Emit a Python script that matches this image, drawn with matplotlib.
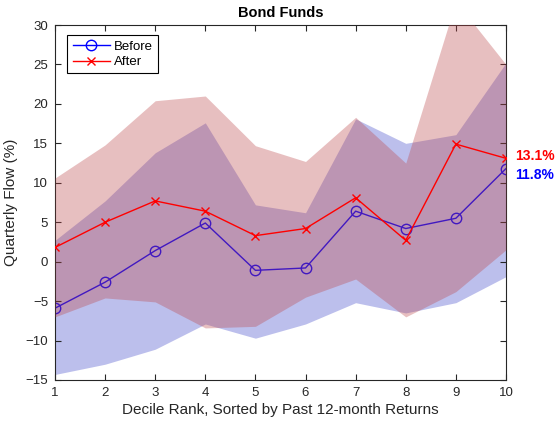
import numpy as np
import matplotlib
matplotlib.use("Agg")
import matplotlib.pyplot as plt

plt.rcParams['font.family'] = ['Liberation Sans', 'DejaVu Sans']

# decile ranks and mean flows
deciles = [1, 2, 3, 4, 5, 6, 7, 8, 9, 10]
before = [-5.9, -2.6, 1.4, 4.9, -1.1, -0.8, 6.4, 4.2, 5.5, 11.8]
after = [1.8, 5.0, 7.7, 6.4, 3.3, 4.2, 8.1, 2.7, 14.9, 13.1]

# shaded ranges around each series
before_lo = [-14.3, -13.0, -11.1, -7.9, -9.7, -7.9, -5.2, -6.5, -5.2, -1.9]
before_hi = [2.7, 7.7, 13.8, 17.6, 7.2, 6.2, 18.1, 15.0, 16.1, 25.2]
after_lo = [-7.0, -4.6, -5.1, -8.4, -8.2, -4.5, -2.2, -7.0, -3.8, 1.5]
after_hi = [10.6, 14.8, 20.4, 21.0, 14.7, 12.7, 18.3, 12.5, 33.0, 25.0]

yticks = [-15, -10, -5, 0, 5, 10, 15, 20, 25, 30]

fig = plt.figure(figsize=(5.57, 4.24), dpi=100)
ax = fig.add_axes([0.0987, 0.1038, 0.8097, 0.8372])

blue_fill = (64/255, 72/255, 201/255)
red_fill = (189/255, 72/255, 75/255)

ax.fill_between(deciles, before_lo, before_hi, color=blue_fill, alpha=0.35,
                linewidth=0, zorder=1)
ax.plot(deciles, before, '-o', color='blue', markerfacecolor='none',
        markersize=7.5, linewidth=1, label='Before', zorder=2)
ax.fill_between(deciles, after_lo, after_hi, color=red_fill, alpha=0.35,
                linewidth=0, zorder=3)
ax.plot(deciles, after, '-x', color='red', markersize=5.5, linewidth=1,
        label='After', zorder=4)

ax.text(10.18, after[-1] + 0.3, f'{after[-1]:.1f}%', color='red',
        fontsize=10, fontweight='bold', va='center', ha='left', clip_on=False)
ax.text(10.18, before[-1] - 0.8, f'{before[-1]:.1f}%', color='blue',
        fontsize=10, fontweight='bold', va='center', ha='left', clip_on=False)

ax.set_xlim(1, 10)
ax.set_ylim(-15, 30)
ax.set_xticks(deciles)
ax.set_yticks(yticks)
ax.tick_params(direction='in', top=True, right=True, labelsize=9.5,
               colors='#262626', length=4, pad=5)
for s in ax.spines.values():
    s.set_color('#262626')
    s.set_linewidth(0.8)

ax.set_title('Bond Funds', fontsize=10.5, fontweight='bold', pad=6)
ax.set_xlabel('Decile Rank, Sorted by Past 12-month Returns', fontsize=11,
              color='#262626', labelpad=3)
ax.set_ylabel('Quarterly Flow (%)', fontsize=11, color='#262626', labelpad=5)

leg = ax.legend(loc='upper left', bbox_to_anchor=(0.013, 0.99),
                fontsize=9.5, fancybox=False, framealpha=1,
                edgecolor='black', handlelength=2.8, borderpad=0.4,
                labelspacing=0.25, handletextpad=0.3)
leg.get_frame().set_linewidth(0.8)

fig.savefig('out.png', dpi=100)
plt.close(fig)
